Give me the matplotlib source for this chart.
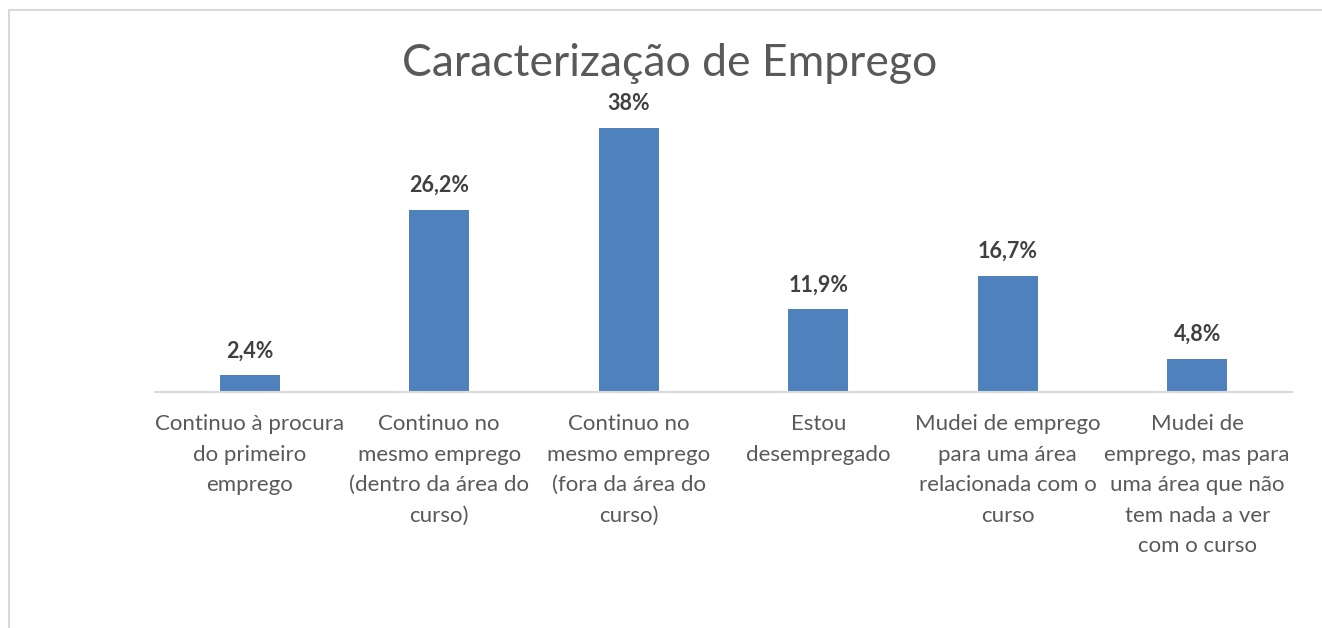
import matplotlib.pyplot as plt
from matplotlib.patches import Rectangle

# data
categorias = [
    "Continuo à procura\ndo primeiro\nemprego",
    "Continuo no\nmesmo emprego\n(dentro da área do\ncurso)",
    "Continuo no\nmesmo emprego\n(fora da área do\ncurso)",
    "Estou\ndesempregado",
    "Mudei de emprego\npara uma área\nrelacionada com o\ncurso",
    "Mudei de\nemprego, mas para\numa área que não\ntem nada a ver\ncom o curso",
]
valores = [2.4, 26.2, 38.0, 11.9, 16.7, 4.8]
rotulos = ["2,4%", "26,2%", "38%", "11,9%", "16,7%", "4,8%"]

plt.rcParams['font.family'] = ['Lato', 'DejaVu Sans']

fig = plt.figure(figsize=(13.22, 6.28), dpi=100)
ax = fig.add_axes([155 / 1322, 1 - 392 / 628, 1137 / 1322, 278 / 628])

x = list(range(len(valores)))
bars = ax.bar(x, valores, width=0.316, color='#4F81BD', zorder=2)

for b, txt in zip(bars, rotulos):
    ax.annotate(txt, (b.get_x() + b.get_width() / 2, b.get_height()),
                xytext=(0, 10), textcoords='offset points',
                ha='center', va='bottom', fontsize=15.5, fontweight='bold',
                color='#404040')

ax.set_xlim(-0.5, len(valores) - 0.5)
ax.set_ylim(0, 40)
ax.set_xticks(x)
ax.set_xticklabels(categorias, fontsize=16, color='#595959', linespacing=1.66)
ax.tick_params(axis='x', length=0, pad=16)
ax.set_yticks([])
for s in ['top', 'right', 'left']:
    ax.spines[s].set_visible(False)
ax.spines['bottom'].set_color('#D9D9D9')
ax.spines['bottom'].set_linewidth(1.5)

fig.text(670 / 1322, 1 - 63 / 628, "Caracterização de Emprego", ha='center',
         va='center', fontsize=32, color='#595959')

# chart border
fig.patches.append(Rectangle((9 / 1322, -0.1), 1.2, 1.1 - 10 / 628,
                             transform=fig.transFigure, fill=False,
                             edgecolor='#D9D9D9', linewidth=1.5))

fig.savefig('out.png', dpi=100)
